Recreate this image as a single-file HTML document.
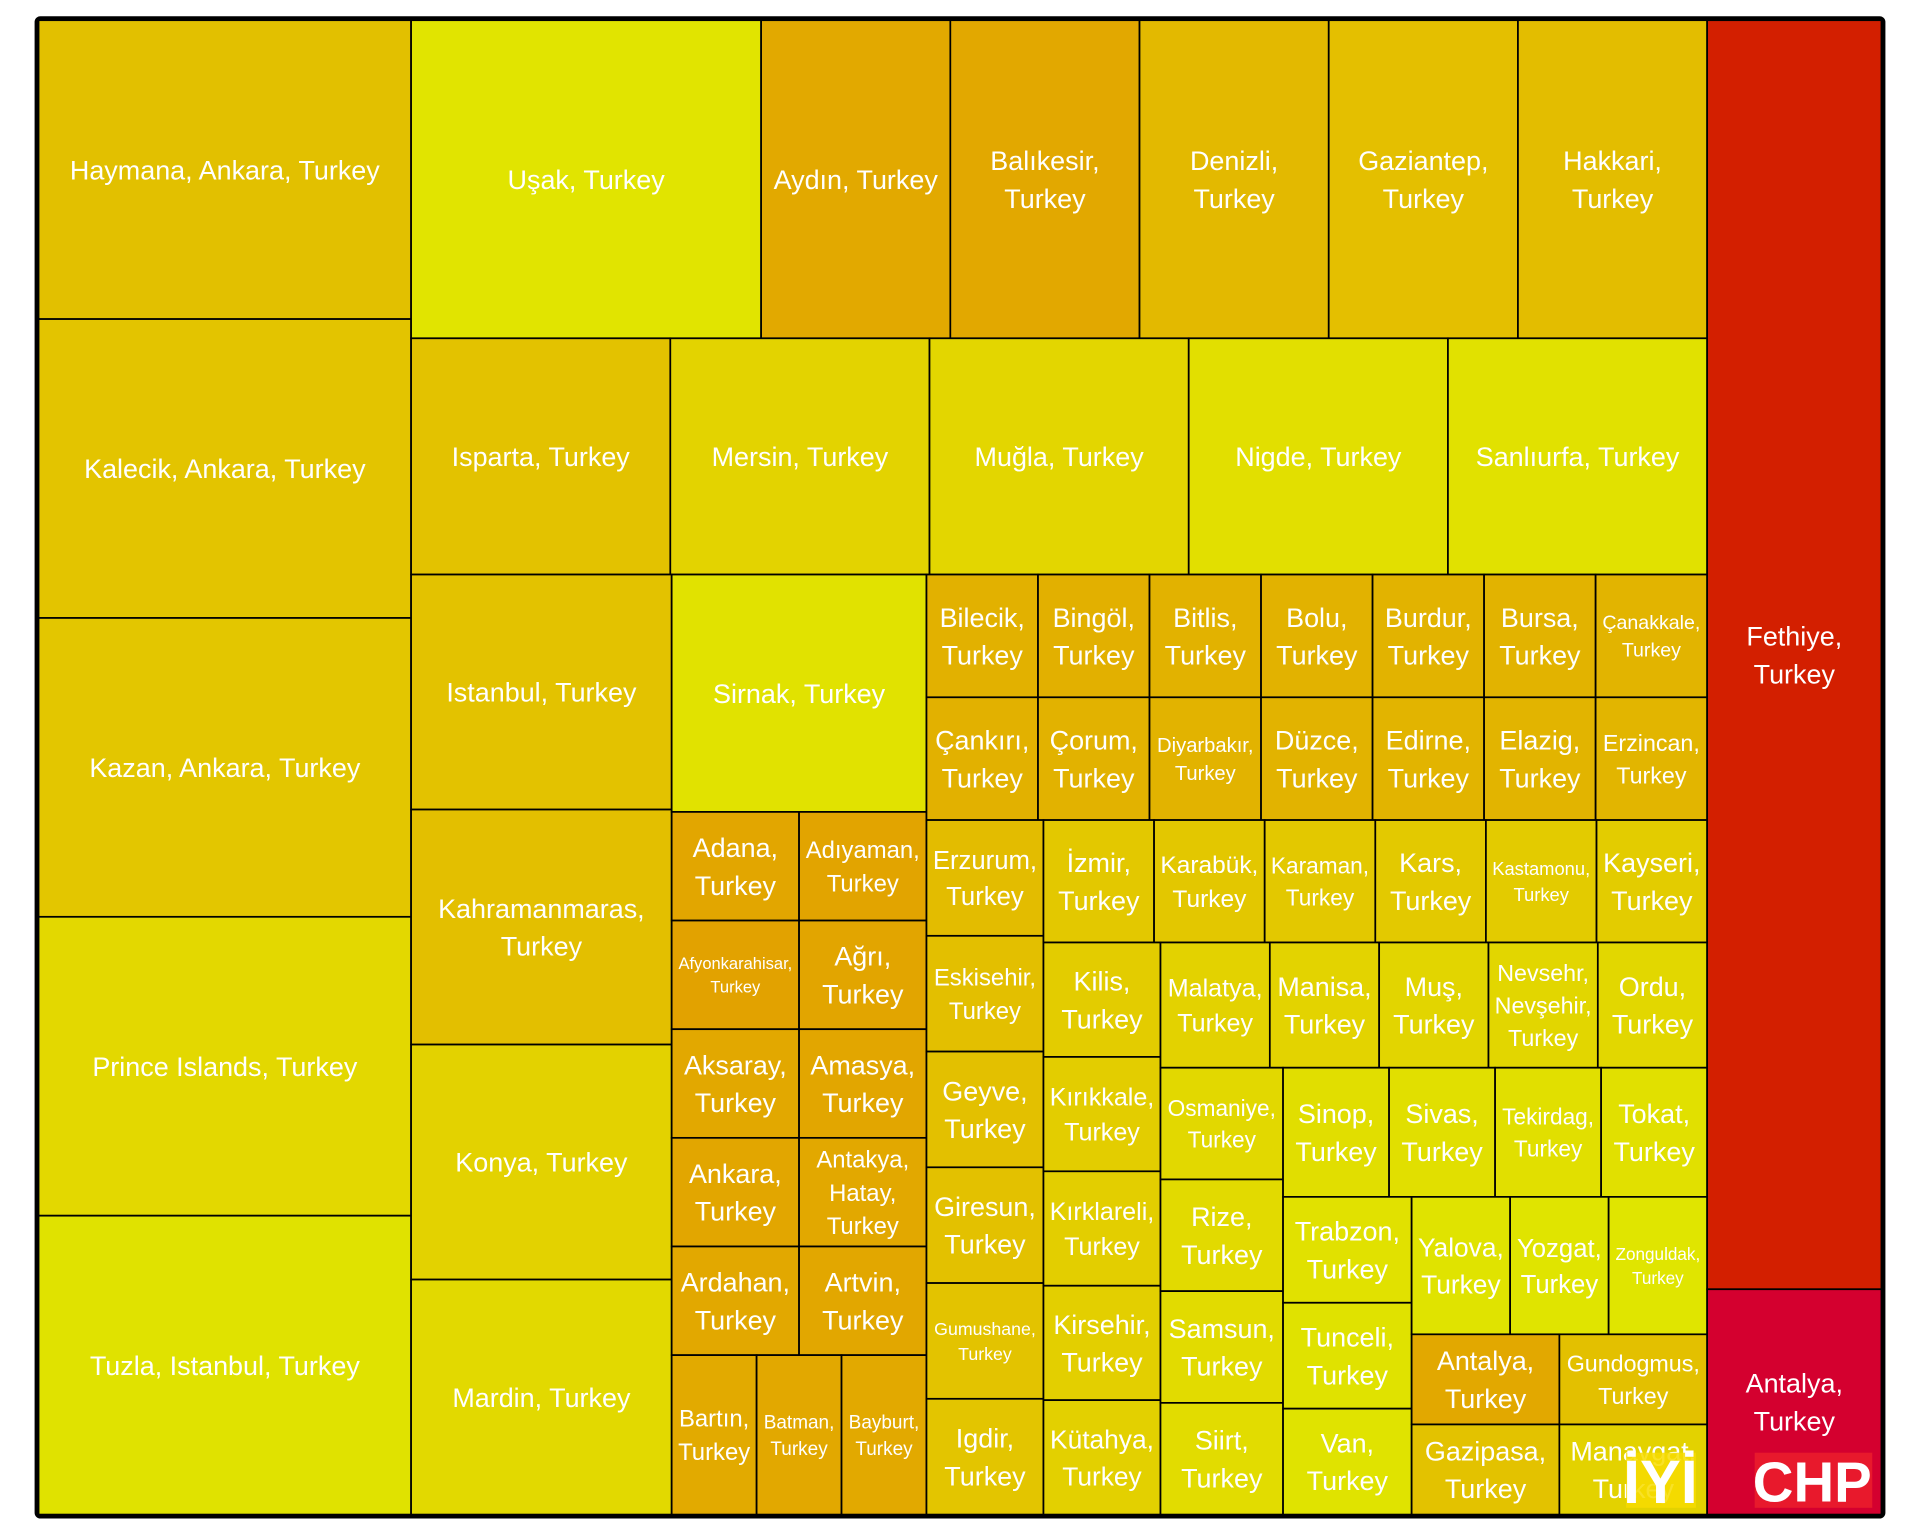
<!DOCTYPE html>
<html><head><meta charset="utf-8"><style>
html,body{margin:0;padding:0;background:#fff;}
svg{display:block;}
text{font-family:"Liberation Sans","DejaVu Sans",sans-serif;fill:#fff;}
</style></head><body>
<svg id="chart" width="1920" height="1536" viewBox="0 0 1568 1254" preserveAspectRatio="none" xmlns="http://www.w3.org/2000/svg">
<g id="cells"></g>
<rect x="30" y="15" width="1508" height="1223" rx="3" fill="none" stroke="#000" stroke-width="3.5"/>
<g id="logos">
<rect x="1328" y="1186" width="57" height="45" fill="#f7dc00" opacity="0.85"/>
<text x="1356" y="1227" text-anchor="middle" font-size="50" font-weight="bold">İYİ</text>
<rect x="1433" y="1186" width="96" height="45" fill="#e8192c"/>
<text x="1480" y="1226" text-anchor="middle" font-size="46" font-weight="bold">CHP</text>
</g>
</svg>
<script>
// Leaf data (in order of appearance in the tree)
const names = [
"Haymana, Ankara, Turkey","Kalecik, Ankara, Turkey","Kazan, Ankara, Turkey","Prince Islands, Turkey","Tuzla, Istanbul, Turkey",
"Uşak, Turkey","Aydın, Turkey","Balıkesir, Turkey","Denizli, Turkey","Gaziantep, Turkey","Hakkari, Turkey",
"Isparta, Turkey","Mersin, Turkey","Muğla, Turkey","Nigde, Turkey","Sanlıurfa, Turkey",
"Istanbul, Turkey","Kahramanmaras, Turkey","Konya, Turkey","Mardin, Turkey",
"Sirnak, Turkey",
"Adana, Turkey","Adıyaman, Turkey","Afyonkarahisar, Turkey","Ağrı, Turkey","Aksaray, Turkey","Amasya, Turkey","Ankara, Turkey","Antakya, Hatay, Turkey","Ardahan, Turkey","Artvin, Turkey",
"Bartın, Turkey","Batman, Turkey","Bayburt, Turkey",
"Bilecik, Turkey","Bingöl, Turkey","Bitlis, Turkey","Bolu, Turkey","Burdur, Turkey","Bursa, Turkey","Çanakkale, Turkey",
"Çankırı, Turkey","Çorum, Turkey","Diyarbakır, Turkey","Düzce, Turkey","Edirne, Turkey","Elazig, Turkey","Erzincan, Turkey",
"Erzurum, Turkey","Eskisehir, Turkey","Geyve, Turkey","Giresun, Turkey","Gumushane, Turkey","Igdir, Turkey",
"İzmir, Turkey","Karabük, Turkey","Karaman, Turkey","Kars, Turkey","Kastamonu, Turkey","Kayseri, Turkey",
"Kilis, Turkey","Kırıkkale, Turkey","Kırklareli, Turkey","Kirsehir, Turkey","Kütahya, Turkey",
"Malatya, Turkey","Manisa, Turkey","Muş, Turkey","Nevsehr, Nevşehir, Turkey","Ordu, Turkey",
"Osmaniye, Turkey","Rize, Turkey","Samsun, Turkey","Siirt, Turkey",
"Sinop, Turkey","Sivas, Turkey","Tekirdag, Turkey","Tokat, Turkey",
"Trabzon, Turkey","Tunceli, Turkey","Van, Turkey",
"Yalova, Turkey","Yozgat, Turkey","Zonguldak, Turkey",
"Antalya, Turkey","Gundogmus, Turkey","Gazipasa, Turkey","Manavgat, Turkey",
"Fethiye, Turkey","Antalya, Turkey"
];
const values = [
74,74,74,74,74,
74,40,40,40,40,40,
40.7,40.7,40.7,40.7,40.7,
40.7,40.7,40.7,40.7,
40.2,
9.2,9.2,9.2,9.2,9.2,9.2,9.2,9.2,9.2,9.2,
9,9,9,
9.1,9.1,9.1,9.1,9.1,9.1,9.1,
9.1,9.1,9.1,9.1,9.1,9.1,9.1,
9.0,9.0,9.0,9.0,9.0,9.0,
9,9,9,9,9,9,
8.9,8.9,8.9,8.9,8.9,
9.1,9.1,9.1,9.1,9.1,
9.1,9.1,9.1,9.1,
9.1,9.1,9.1,9.1,
9.05,9.05,9.05,
9,9,9,
8.85,8.85,8.85,8.85,
147,26.1
];
const colors = [
"#e2c000","#e3c400","#e3c600","#e3d800","#e0e200",
"#e1e400","#e2a900","#e2a800","#e3b900","#e4bf00","#e3bd00",
"#e3c200","#e3d300","#e3d600","#e2df00","#e1e100",
"#e3c200","#e3bf00","#e3d200","#e2d900",
"#e1e200",
"#e2a600","#e2a400","#e2a200","#e2a500","#e2a800","#e2a600","#e2a600","#e2a800","#e2a800","#e2a700",
"#e2aa00","#e2a800","#e2a900",
"#e2b100","#e2b000","#e2b200","#e2b200","#e2b300","#e2b300","#e2b400",
"#e2b100","#e2b200","#e2b300","#e2b300","#e2b400","#e2b400","#e2b500",
"#e3bc00","#e3bf00","#e3c000","#e3c100","#e3c300","#e3c500",
"#e3c800","#e3c700","#e3c800","#e3c900","#e3cb00","#e3cc00",
"#e3cc00","#e3cd00","#e3ce00","#e3cf00","#e3d000",
"#e3d200","#e3d300","#e2d500","#e2d600","#e2d700",
"#e2d800","#e2da00","#e2db00","#e2dc00",
"#e1de00","#e1df00","#e1df00","#e1e000",
"#e1e100","#e0e200","#e0e300",
"#e0e300","#e0e400","#e0e500",
"#e2a800","#e3c000","#e3c200","#e3d200",
"#d31f00","#d4002f"
];
function seq(a,b){const r=[];for(let i=a;i<=b;i++)r.push(i);return r;}
// Hierarchy built bottom-up: ['h'|'v', children...]; numbers are leaf indices
const nodeL = ['v', ['h',84,85], ['h',86,87]];
const nodeK = ['v', ['h',81,82,83], nodeL];
const nodeJ = ['h', ['v',78,79,80], nodeK];
const nodeI = ['v', ['h',74,75,76,77], nodeJ];
const nodeH = ['h', ['v',70,71,72,73], nodeI];
const nodeG = ['v', ['h'].concat(seq(65,69)), nodeH];
const nodeF = ['h', ['v'].concat(seq(60,64)), nodeG];
const nodeE = ['v', ['h'].concat(seq(54,59)), nodeF];
const nodeD = ['h', ['v'].concat(seq(48,53)), nodeE];
const nodeC = ['v', ['h'].concat(seq(34,40)), ['h'].concat(seq(41,47)), nodeD];
const nodeB = ['v', 20, ['v', ['h',21,22], ['h',23,24], ['h',25,26], ['h',27,28], ['h',29,30], ['h',31,32,33]]];
const nodeBottom = ['h', ['v'].concat(seq(16,19)), nodeB, nodeC];
const nodeR = ['v', ['h'].concat(seq(5,10)), ['h'].concat(seq(11,15)), nodeBottom];
const tree = ['h', ['h', ['v'].concat(seq(0,4)), nodeR], ['v',88,89]];

function total(n){return typeof n==='number'?values[n]:n.slice(1).reduce((s,c)=>s+total(c),0);}
const NS="http://www.w3.org/2000/svg";
const g=document.getElementById('cells');
const cv=document.createElement('canvas');
const ctx=cv.getContext('2d');
function tw(s,fs){ctx.font=fs+'px "Liberation Sans", sans-serif';return ctx.measureText(s).width;}
function fitLabel(label,w,h){
  const parts=label.split(', ').map((p,i,a)=>i<a.length-1?p+',':p);
  for(let fs=22;fs>=9;fs-=0.5){
    if(tw(label,fs)<=w*0.845 && w>180) return {fs:fs,lines:[label]};
    const lines=[];let cur='';
    for(const p of parts){const t=cur?cur+' '+p:p;if(cur&&tw(t,fs)>w-12){lines.push(cur);cur=p;}else cur=t;}
    lines.push(cur);
    if(lines.every(l=>tw(l,fs)<=w-10)&&lines.length*fs*1.4<=h-6) return {fs:fs,lines:lines};
  }
  return {fs:9,lines:parts};
}
function slug(s){return s.toLowerCase().normalize('NFD').replace(/[^a-z0-9]+/g,'-').replace(/^-|-$/g,'');}
function layout(n,x,y,w,h){
  if(typeof n==='number'){
    const r=document.createElementNS(NS,'rect');
    r.setAttribute('x',x);r.setAttribute('y',y);r.setAttribute('width',w);r.setAttribute('height',h);
    r.setAttribute('fill',colors[n]);r.setAttribute('stroke','#000');r.setAttribute('stroke-width','1.4');
    
    
    g.appendChild(r);
    const f=fitLabel(names[n],w,h);
    const t=document.createElementNS(NS,'text');
    t.setAttribute('x',x+w/2);t.setAttribute('text-anchor','middle');t.setAttribute('font-size',f.fs);
    const lh=f.fs*1.4, y0=y+h/2-(f.lines.length-1)*lh/2+f.fs*0.36;
    f.lines.forEach(function(l,i){const ts=document.createElementNS(NS,'tspan');ts.setAttribute('x',x+w/2);ts.setAttribute('y',y0+i*lh);ts.textContent=l;t.appendChild(ts);});
    
    
    g.appendChild(t);
    return;
  }
  const kids=n.slice(1),T=total(n);let off=0;
  for(const c of kids){const f=total(c)/T;
    if(n[0]==='h'){layout(c,x+off,y,w*f,h);off+=w*f;}else{layout(c,x,y+off,w,h*f);off+=h*f;}}
}
layout(tree,31.5,16.5,1505,1220);
</script>
</body></html>
